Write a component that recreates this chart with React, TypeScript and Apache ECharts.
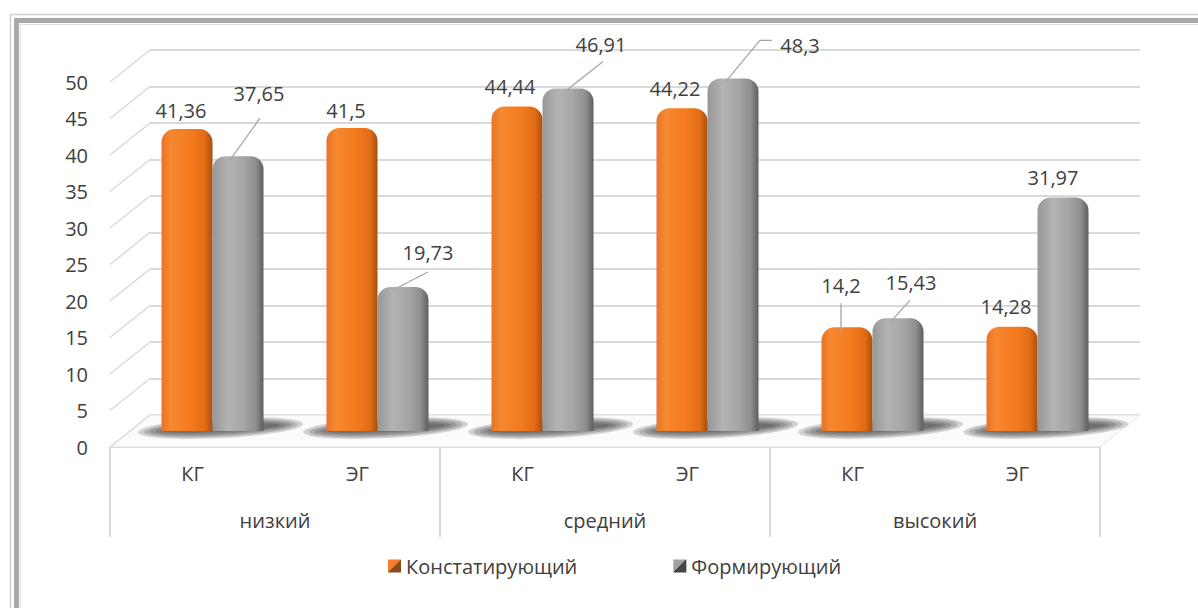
import React, { useEffect, useRef } from "react";
import * as echarts from "echarts";

// ---------- data ----------
const groups = ["низкий", "средний", "высокий"];
const subgroups = ["КГ", "ЭГ", "КГ", "ЭГ", "КГ", "ЭГ"];
const seriesNames = ["Констатирующий", "Формирующий"];
const konstValues = [41.36, 41.5, 44.44, 44.22, 14.2, 14.28];
const formValues = [37.65, 19.73, 46.91, 48.3, 15.43, 31.97];
const yTicks = [0, 5, 10, 15, 20, 25, 30, 35, 40, 45, 50];

// ---------- layout / style ----------
const FONT = "'Open Sans', 'Noto Sans', sans-serif";
const TEXT = "#404040";
const GRIDLINE = "#d9d9d9";
const FRONT = { left: 110, right: 98, top: 82, bottom: 161 };
const DX = 40;
const DY = -32;
const BAR_W = 51;

// label offsets relative to bar top center [dx, dy]
const LABEL_OFFSETS = [
  [[-6, -19], [-6, -18], [-7, -20], [-7, -20], [-6, -42], [-6, -20]],
  [[21, -63], [25, -34], [33, -44], [67, -33], [13, -36], [-10, -20]],
];
// leader lines, points relative to bar top center
const LEADERS = [
  { s: 1, i: 0, pts: [[22, -38], [-8, 4]] },
  { s: 1, i: 1, pts: [[25, -15], [-10, 3]] },
  { s: 1, i: 2, pts: [[35, -27], [-3, 3]] },
  { s: 1, i: 3, pts: [[39, -38], [27, -38], [-8, 4]] },
  { s: 1, i: 4, pts: [[12, -18], [-8, 4]] },
  { s: 0, i: 4, pts: [[-6, -24], [-6, 5]] },
];

const gridAt = (f: number) => ({
  left: FRONT.left + f * DX,
  right: FRONT.right - f * DX,
  top: FRONT.top + f * DY,
  bottom: FRONT.bottom - f * DY,
  containLabel: false,
});

const fmt = (v: number) => String(v).replace(".", ",");

const orangeGrad = new echarts.graphic.LinearGradient(0, 0, 1, 0, [
  { offset: 0, color: "#e9732a" },
  { offset: 0.18, color: "#f6882f" },
  { offset: 0.55, color: "#f47b20" },
  { offset: 0.85, color: "#e36c16" },
  { offset: 1, color: "#a84f10" },
]);
const grayGrad = new echarts.graphic.LinearGradient(0, 0, 1, 0, [
  { offset: 0, color: "#979797" },
  { offset: 0.3, color: "#b3b3b3" },
  { offset: 0.6, color: "#a6a6a6" },
  { offset: 0.85, color: "#8e8e8e" },
  { offset: 1, color: "#5e5e5e" },
]);
const orangeIcon = new echarts.graphic.LinearGradient(0, 0, 1, 1, [
  { offset: 0, color: "#f07c2c" },
  { offset: 0.5, color: "#f07c2c" },
  { offset: 0.5, color: "#8b4a1c" },
  { offset: 1, color: "#8b4a1c" },
]);
const grayIcon = new echarts.graphic.LinearGradient(0, 0, 1, 1, [
  { offset: 0, color: "#a0a0a0" },
  { offset: 0.5, color: "#a0a0a0" },
  { offset: 0.5, color: "#454545" },
  { offset: 1, color: "#454545" },
]);

export default function App() {
  const ref = useRef<HTMLDivElement>(null);

  useEffect(() => {
    if (!ref.current) return;
    const chart = echarts.init(ref.current, undefined, { renderer: "svg" });
    const values = [konstValues, formValues];

    const barSeries = values.map((vals, s) => ({
      type: "bar",
      name: seriesNames[s],
      xAxisIndex: 0,
      yAxisIndex: 0,
      data: vals,
      barWidth: BAR_W,
      barGap: "0%",
      z: 4,
      itemStyle: {
        color: s === 0 ? orangeGrad : grayGrad,
        borderRadius: [13, 13, 0, 0],
      },
      emphasis: { disabled: true },
      label: {
        show: true,
        position: "top",
        color: TEXT,
        fontSize: 20,
        fontFamily: FONT,
        formatter: (p: any) => fmt(p.value),
      },
      labelLayout: (p: any) => {
        const off = LABEL_OFFSETS[s][p.dataIndex];
        return {
          x: p.rect.x + p.rect.width / 2 + off[0],
          y: p.rect.y + off[1],
          align: "center",
          verticalAlign: "middle",
        };
      },
    }));

    const option: any = {
      animation: false,
      backgroundColor: "#ffffff",
      textStyle: { fontFamily: FONT },
      graphic: [
        {
          type: "rect",
          silent: true,
          shape: { x: 10.5, y: 14.5, width: 1400, height: 900 },
          style: { fill: "none", stroke: "#cfcfcf", lineWidth: 1.5 },
        },
        {
          type: "rect",
          silent: true,
          shape: { x: 16.5, y: 20.5, width: 1400, height: 900 },
          style: { fill: "none", stroke: "#a9a9a9", lineWidth: 5 },
        },
        {
          type: "rect",
          silent: true,
          shape: { x: 20.5, y: 24.5, width: 1400, height: 900 },
          style: { fill: "none", stroke: "#dcdcdc", lineWidth: 1 },
        },
      ],
      grid: [gridAt(0.5), gridAt(1), gridAt(0)],
      legend: {
        left: 383,
        top: 551,
        itemWidth: 13,
        itemHeight: 13,
        itemGap: 96,
        icon: "rect",
        textStyle: { color: TEXT, fontSize: 20, fontFamily: FONT },
        data: [
          { name: seriesNames[0], itemStyle: { color: orangeIcon } },
          { name: seriesNames[1], itemStyle: { color: grayIcon } },
        ],
      },
      xAxis: [
        { type: "category", gridIndex: 0, data: subgroups, show: false },
        { type: "category", gridIndex: 1, data: subgroups, show: false },
        {
          type: "category",
          gridIndex: 2,
          data: subgroups,
          position: "bottom",
          axisLine: { show: true, lineStyle: { color: GRIDLINE, width: 2 } },
          axisTick: { show: false },
          axisLabel: { color: TEXT, fontSize: 20, fontFamily: FONT, margin: 16 },
        },
        {
          type: "category",
          gridIndex: 2,
          data: groups,
          position: "bottom",
          offset: 0,
          axisLine: { show: false },
          axisTick: { show: true, length: 90, lineStyle: { color: GRIDLINE, width: 2 } },
          axisLabel: { color: TEXT, fontSize: 20, fontFamily: FONT, margin: 63 },
        },
      ],
      yAxis: [
        { type: "value", gridIndex: 0, min: 0, max: 50, interval: 5, show: false },
        {
          type: "value",
          gridIndex: 1,
          min: 0,
          max: 50,
          interval: 5,
          axisLine: { show: false },
          axisTick: { show: false },
          axisLabel: { show: false },
          splitLine: { show: true, lineStyle: { color: GRIDLINE, width: 2 } },
        },
        {
          type: "value",
          gridIndex: 2,
          min: 0,
          max: 50,
          interval: 5,
          axisLine: { show: false },
          axisTick: { show: false },
          splitLine: { show: false },
          axisLabel: { color: TEXT, fontSize: 20, fontFamily: FONT, margin: 22 },
        },
      ],
      series: [
        ...barSeries,
        {
          // floor
          type: "custom",
          xAxisIndex: 2,
          yAxisIndex: 2,
          z: 1,
          silent: true,
          data: [[0, 0]],
          renderItem: (params: any, api: any) => {
            const p = api.coord([0, 0]);
            const band = api.size([1, 0])[0];
            const xl = p[0] - band / 2;
            const xr = xl + band * subgroups.length;
            const y = p[1];
            return {
              type: "polygon",
              shape: { points: [[xl, y], [xr, y], [xr + DX, y + DY], [xl + DX, y + DY]] },
              style: { fill: "#fbfbfb", stroke: "#e2e2e2", lineWidth: 1 },
            };
          },
        },
        {
          // side wall lines
          type: "custom",
          xAxisIndex: 2,
          yAxisIndex: 2,
          z: 1,
          silent: true,
          data: yTicks.map((t) => [0, t]),
          renderItem: (params: any, api: any) => {
            const p = api.coord([0, api.value(1)]);
            const band = api.size([1, 0])[0];
            const xl = p[0] - band / 2;
            return {
              type: "line",
              shape: { x1: xl, y1: p[1], x2: xl + DX, y2: p[1] + DY },
              style: { stroke: GRIDLINE, lineWidth: 1.5 },
            };
          },
        },
        {
          // soft bar shadows on the floor
          type: "custom",
          xAxisIndex: 0,
          yAxisIndex: 0,
          z: 2,
          silent: true,
          data: subgroups.map((_, i) => [i, 0]),
          renderItem: (params: any, api: any) => {
            const p = api.coord([api.value(0), 0]);
            const band = api.size([1, 0])[0];
            const cx = p[0] + 8;
            const cy = p[1] - 3;
            const layers = [0, 1, 2, 3, 4];
            return {
              type: "group",
              children: layers.map((k) => ({
                type: "ellipse",
                rotation: 0.05,
                originX: cx,
                originY: cy,
                shape: { cx, cy, rx: band * (0.5 - k * 0.035), ry: 10 - k * 1.6 },
                style: { fill: "rgba(45,45,45,0.2)" },
              })),
            };
          },
        },
        {
          // leader lines
          type: "custom",
          xAxisIndex: 0,
          yAxisIndex: 0,
          z: 5,
          silent: true,
          data: LEADERS.map((l, k) => [l.i, values[l.s][l.i], l.s, k]),
          renderItem: (params: any, api: any) => {
            const L = LEADERS[api.value(3)];
            const top = api.coord([api.value(0), api.value(1)]);
            const bx = top[0] + (L.s === 0 ? -1 : 1) * (BAR_W / 2);
            const by = top[1];
            return {
              type: "polyline",
              shape: { points: L.pts.map((q) => [bx + q[0], by + q[1]]) },
              style: { stroke: "#a6a6a6", lineWidth: 1.3, fill: "none" },
            };
          },
        },
      ],
    };

    chart.setOption(option);
    return () => chart.dispose();
  }, []);

  return (
    <div
      ref={ref}
      style={{ position: "fixed", left: 0, top: 0, width: 1198, height: 608, background: "#fff" }}
    />
  );
}
